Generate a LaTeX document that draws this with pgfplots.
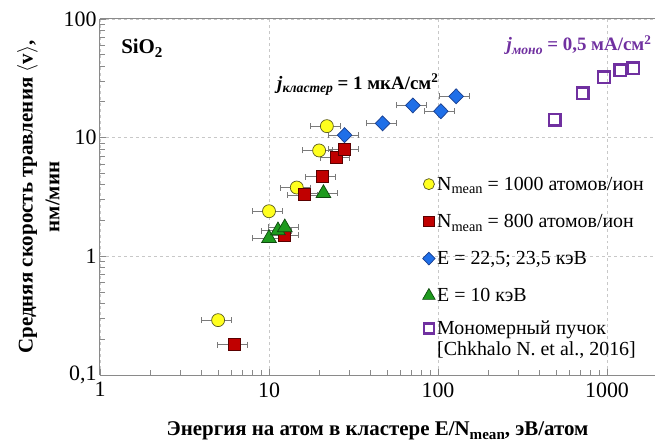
\documentclass[border=0pt]{standalone}
\usepackage{graphicx}
\usepackage{pgfplots}
\pgfplotsset{compat=1.18}
\usepackage{fontspec}
\setmainfont{Liberation Serif}

\definecolor{gridgray}{HTML}{C8C8C8}
\definecolor{axisgray}{HTML}{8A8A8A}
\definecolor{barsgray}{HTML}{7A7A7A}
\definecolor{yelfill}{HTML}{FFFF1E}
\definecolor{yeledge}{HTML}{5A5A20}
\definecolor{redfill}{HTML}{C00000}
\definecolor{rededge}{HTML}{5A0000}
\definecolor{bluefill}{HTML}{1F6FE8}
\definecolor{blueedge}{HTML}{1A3F8F}
\definecolor{greenfill}{HTML}{1E9A1E}
\definecolor{greenedge}{HTML}{0E4A0E}
\definecolor{monopurple}{HTML}{7030A0}

\newcommand{\lowsub}[1]{\raisebox{-0.42ex}{\scalebox{0.72}{#1}}}

\begin{document}
\begin{tikzpicture}
\useasboundingbox (-100bp,-68bp) rectangle (555bp,375bp);
\begin{axis}[
  scale only axis, width=555bp, height=356bp,
  xmode=log, ymode=log,
  xmin=1, xmax=1923, ymin=0.1, ymax=100,
  axis lines*=left,
  axis line style={axisgray, line width=1bp},
  xtick={1,10,100,1000},
  xticklabels={\mbox{1},\mbox{10},\mbox{100},\mbox{1000}},
  ytick={0.1,1,10,100},
  yticklabels={\mbox{0,1},\mbox{1},\mbox{10},\mbox{100}},
  minor xtick={2,3,4,5,6,7,8,9,20,30,40,50,60,70,80,90,200,300,400,500,600,700,800,900},
  minor ytick={0.2,0.3,0.4,0.5,0.6,0.7,0.8,0.9,2,3,4,5,6,7,8,9,20,30,40,50,60,70,80,90},
  tick align=inside,
  major tick length=6bp, minor tick length=5bp,
  tick style={axisgray, line width=0.9bp},
  grid=major,
  major grid style={dashed, gridgray, line width=0.8bp},
  ticklabel style={font=\fontsize{22}{22}\selectfont},
  xticklabel style={yshift=-4bp},
  xlabel={Энергия на атом в кластере E/N\lowsub{mean}, эВ/атом},
  xlabel style={font=\fontsize{21}{21}\selectfont\bfseries,
    at={(axis description cs:0.5,0)}, anchor=base, yshift=-60bp},
  ylabel={Средняя скорость травления $\langle$v$\rangle$,\\нм/мин},
  ylabel style={font=\fontsize{21}{27}\selectfont\bfseries, align=center,
    at={(axis description cs:-0.111,0.5)}, anchor=center, rotate=0},
  legend style={at={(rel axis cs:0.581,0.563)}, anchor=north west,
    draw=none, fill=none, font=\fontsize{20}{21}\selectfont,
    row sep=18.5bp, inner sep=0pt,
    cells={anchor=west}},
  legend image post style={scale=0.85},
  legend cell align=left,
  error bars/error bar style={barsgray, line width=0.6bp},
  error bars/error mark options={barsgray, line width=0.6bp, mark size=3bp, rotate=90},
]

% N_mean = 1000 atoms/ion
\addplot+[only marks, mark=*, mark size=6.5bp,
  mark options={fill=yelfill, draw=yeledge, line width=0.7bp},
  error bars/.cd, x dir=both, x fixed relative=0.2, y dir=both, y fixed relative=0.05]
  coordinates {(5,0.29) (10,2.4) (14.6,3.8) (19.8,7.8) (22,12.5)};
\addlegendentry{N\lowsub{mean} = 1000 атомов/ион}

% N_mean = 800 atoms/ion
\addplot+[only marks, mark=square*, mark size=6bp,
  mark options={fill=redfill, draw=rededge, line width=0.7bp},
  error bars/.cd, x dir=both, x fixed relative=0.2, y dir=both, y fixed relative=0.05]
  coordinates {(6.2,0.18) (12.4,1.5) (16.1,3.3) (20.6,4.7) (25,6.8) (28,8.0)};
\addlegendentry{N\lowsub{mean} = 800 атомов/ион}

% E = 22.5; 23.5 keV
\addplot+[only marks, mark=diamond*, mark size=7.5bp,
  mark options={fill=bluefill, draw=blueedge, line width=0.7bp, xscale=1.3},
  error bars/.cd, x dir=both, x fixed relative=0.2, y dir=both, y fixed relative=0.05]
  coordinates {(28,10.5) (47,13.2) (71,18.7) (104,16.7) (128,22.3)};
\addlegendentry{E = 22,5; 23,5 кэВ}

% E = 10 keV
\addplot+[only marks, mark=triangle*, mark size=8.5bp,
  mark options={fill=greenfill, draw=greenedge, line width=0.7bp},
  error bars/.cd, x dir=both, x fixed relative=0.2, y dir=both, y fixed relative=0.05]
  coordinates {(10,1.42) (11.3,1.65) (12.4,1.75) (21,3.4)};
\addlegendentry{E = 10 кэВ}

% monomer beam
\addplot+[only marks, mark=square, mark size=5.8bp,
  mark options={draw=monopurple, line width=2.4bp, fill=none}]
  coordinates {(490,14.2) (720,23.6) (960,32.2) (1200,37) (1430,38.4)};
\addlegendentry{\smash{\raisebox{-0.32em}{\begin{tabular}[t]{@{}l@{}}Мономерный пучок\\{}[Chkhalo N. et al., 2016]\end{tabular}}}}

\draw[axisgray, line width=1bp] (rel axis cs:0,1) -- (rel axis cs:1,1);

\node[anchor=west, font=\fontsize{21}{21}\selectfont\bfseries]
  at (rel axis cs:0.032,0.918) {SiO\lowsub{2}};
\node[anchor=west, font=\fontsize{19}{19}\selectfont\bfseries]
  at (rel axis cs:0.313,0.815) {\textit{j}\lowsub{\textit{кластер}} = 1 мкА/см\textsuperscript{2}};
\node[anchor=east, text=monopurple, font=\fontsize{19}{19}\selectfont\bfseries]
  at (rel axis cs:1.0,0.927) {\textit{j}\lowsub{\textit{моно}} = 0,5 мА/см\textsuperscript{2}};
\end{axis}
\end{tikzpicture}
\end{document}
